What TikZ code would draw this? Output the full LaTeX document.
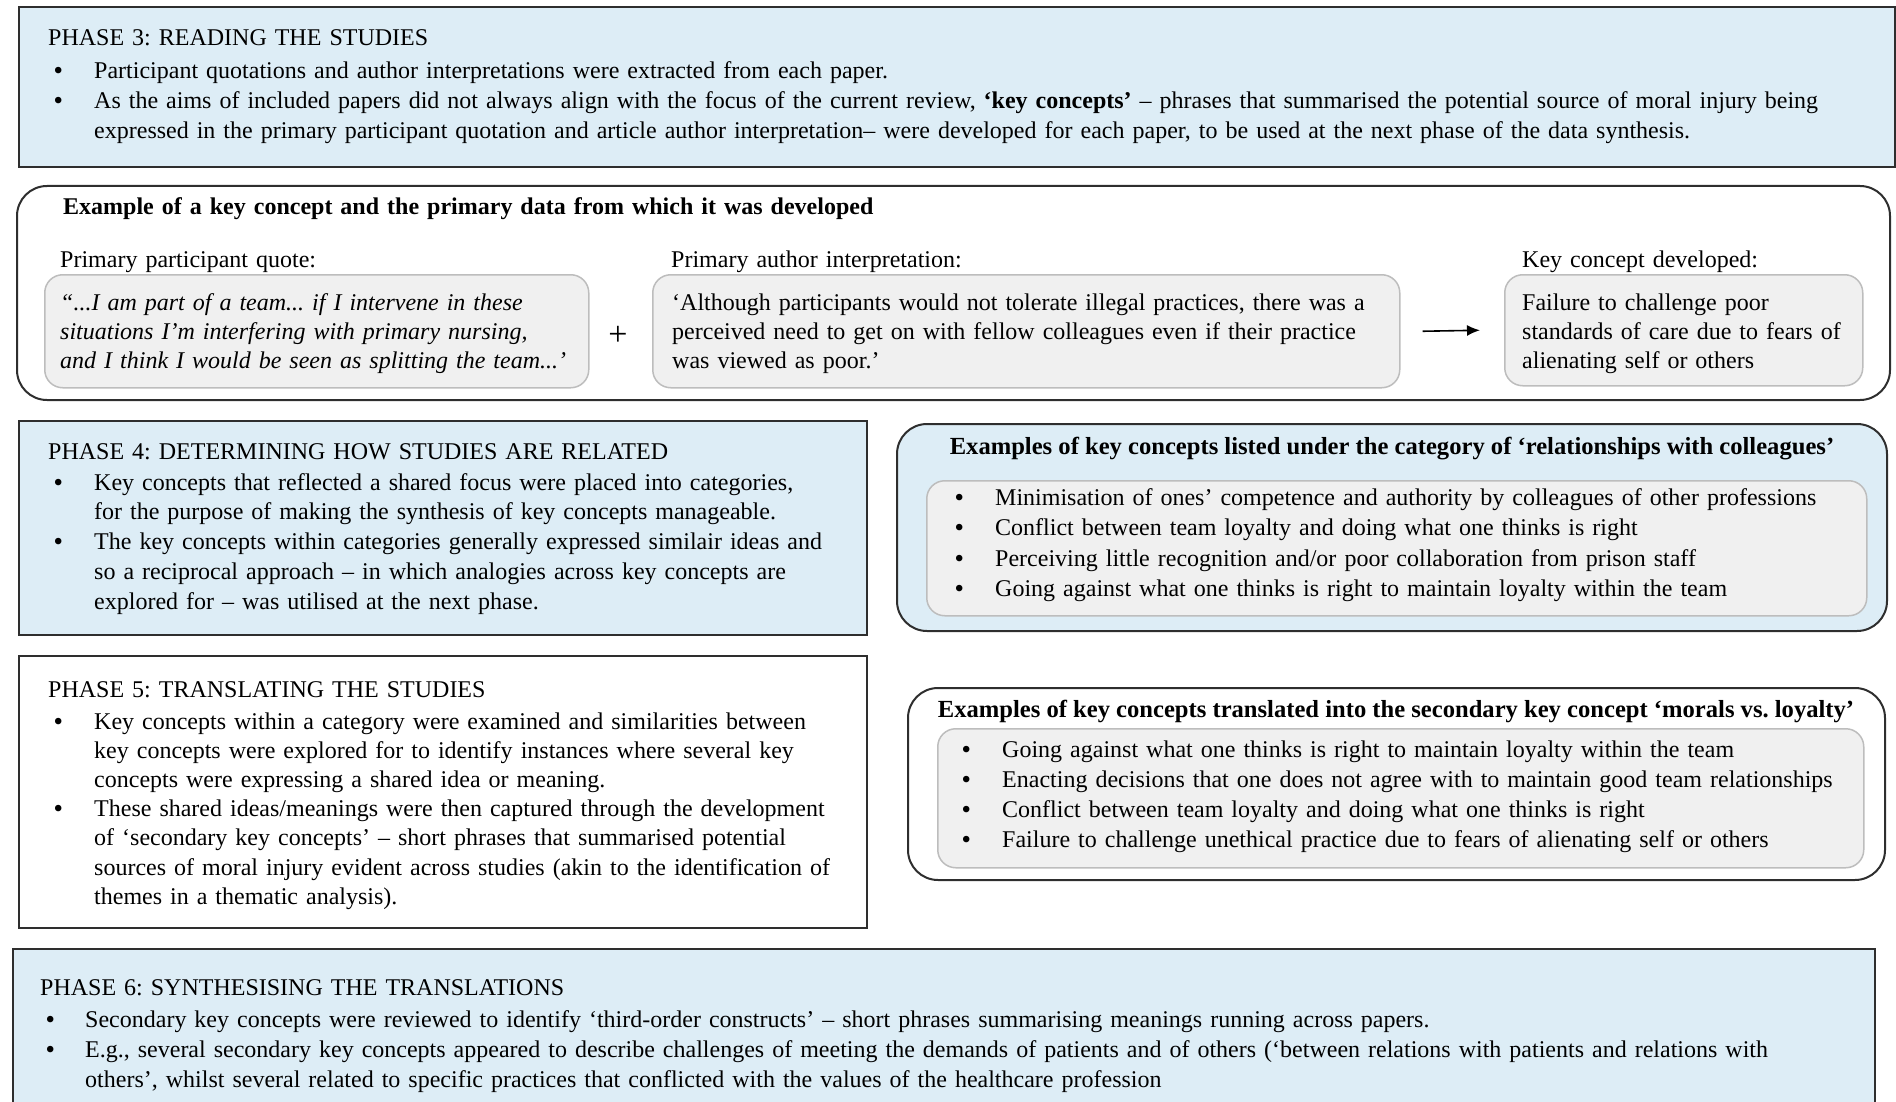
\documentclass[tikz,border=0pt]{standalone}
\usepackage{fontspec}
\setmainfont{Liberation Serif}
\usetikzlibrary{arrows.meta}

\definecolor{phaseblue}{HTML}{DDEDF6}
\definecolor{innergray}{HTML}{F0F0F0}
\definecolor{innerline}{HTML}{BDBDBD}
\definecolor{edge}{HTML}{2E2E2E}

\newcommand{\bul}{\makebox[40pt][l]{\textbf{\textbullet}}}
\newcommand{\ind}{\hspace*{40pt}}

\tikzset{
  boxshape/.style={draw=edge, line width=2pt, inner sep=0pt, anchor=north west},
  phasebox/.style={boxshape, fill=phaseblue},
  plainbox/.style={boxshape, fill=white},
  roundbox/.style={boxshape, rounded corners=30pt},
  graybox/.style={draw=innerline, fill=innergray, line width=1.5pt,
    rounded corners=18pt, inner sep=0pt, anchor=north west},
  txt/.style={inner sep=0pt, align=left, text width=1850pt,
    font=\fontsize{24}{29.5}\selectfont, anchor=base west},
  btitle/.style={inner sep=0pt, font=\fontsize{24.6}{28}\selectfont\bfseries, anchor=base},
}

\begin{document}
\frenchspacing
\begin{tikzpicture}[x=1pt, y=-1pt]
\useasboundingbox (0,0) rectangle (1896,1102);
\clip (0,0) rectangle (1896,1102);

% ---------- Phase 3 ----------
\node[phasebox, minimum width=1876pt, minimum height=160pt] (p3) at (18,6) {};
\node[txt] (p3title) at (48,46) {PHASE 3: READING THE STUDIES};
\node[txt, font=\fontsize{24}{30}\selectfont] (p3body) at (54,79) {\bul Participant quotations and author interpretations were extracted from each paper.\\
\bul As the aims of included papers did not always align with the focus of the current review, \textbf{‘key concepts’} – phrases that summarised the potential source of moral injury being\\
\ind expressed in the primary participant quotation and article author interpretation– were developed for each paper, to be used at the next phase of the data synthesis.};

% ---------- Example of a key concept ----------
\node[roundbox, fill=white, minimum width=1873pt, minimum height=214pt] (ex) at (16,185) {};
\node[txt, font=\fontsize{24}{28}\selectfont\bfseries] (extitle) at (63,215)
  {Example of a key concept and the primary data from which it was developed};

\node[txt] (lquote) at (60,267) {Primary participant quote:};
\node[txt] (lauthor) at (671,267) {Primary author interpretation:};
\node[txt] (lkey) at (1522,267) {Key concept developed:};

\node[graybox, minimum width=544pt, minimum height=113pt] (quote) at (44,274) {};
\node[graybox, minimum width=747pt, minimum height=113pt] (author) at (652,274) {};
\node[graybox, minimum width=358pt, minimum height=111pt] (keyc) at (1504,274) {};

\node[txt, font=\fontsize{24}{29}\selectfont\itshape] (quotetext) at (60,310)
  {“...I am part of a team... if I intervene in these\\
   situations I’m interfering with primary nursing,\\
   and I think I would be seen as splitting the team...’};
\node[txt, font=\fontsize{24}{29}\selectfont] (authortext) at (672,310)
  {‘Although participants would not tolerate illegal practices, there was a\\
   perceived need to get on with fellow colleagues even if their practice\\
   was viewed as poor.’};
\node[txt, font=\fontsize{24}{29}\selectfont] (keytext) at (1522,310)
  {Failure to challenge poor\\
   standards of care due to fears of\\
   alienating self or others};

\node[inner sep=0pt, font=\fontsize{34}{36}\selectfont] (plus) at (618,336) {+};
\draw[line width=1.6pt, -{Latex[length=13pt,width=11pt]}]
  ([xshift=22pt]author.east) -- ([xshift=-24pt]keyc.west);

% ---------- Phase 4 ----------
\node[phasebox, minimum width=848pt, minimum height=214pt] (p4) at (18,420) {};
\node[txt] (p4title) at (48,459) {PHASE 4: DETERMINING HOW STUDIES ARE RELATED};
\node[txt, font=\fontsize{24}{29.75}\selectfont] (p4body) at (54,490)
  {\bul Key concepts that reflected a shared focus were placed into categories,\\
   \ind for the purpose of making the synthesis of key concepts manageable.\\
   \bul The key concepts within categories generally expressed similair ideas and\\
   \ind so a reciprocal approach – in which analogies across key concepts are\\
   \ind explored for – was utilised at the next phase.};

% ---------- Relationships with colleagues ----------
\node[roundbox, fill=phaseblue, minimum width=990pt, minimum height=207pt] (rel) at (896,423) {};
\node[btitle] (reltitle) at (1392,454)
  {Examples of key concepts listed under the category of ‘relationships with colleagues’};
\node[graybox, minimum width=940pt, minimum height=135pt] (relin) at (926,480) {};
\node[txt, font=\fontsize{24}{30.5}\selectfont] (relitems) at (955,505)
  {\bul Minimisation of ones’ competence and authority by colleagues of other professions\\
   \bul Conflict between team loyalty and doing what one thinks is right\\
   \bul Perceiving little recognition and/or poor collaboration from prison staff\\
   \bul Going against what one thinks is right to maintain loyalty within the team};

% ---------- Phase 5 ----------
\node[plainbox, minimum width=848pt, minimum height=272pt] (p5) at (18,655) {};
\node[txt] (p5title) at (48,697) {PHASE 5: TRANSLATING THE STUDIES};
\node[txt, font=\fontsize{24}{29.2}\selectfont] (p5body) at (54,729)
  {\bul Key concepts within a category were examined and similarities between\\
   \ind key concepts were explored for to identify instances where several key\\
   \ind concepts were expressing a shared idea or meaning.\\
   \bul These shared ideas/meanings were then captured through the development\\
   \ind of ‘secondary key concepts’ – short phrases that summarised potential\\
   \ind sources of moral injury evident across studies (akin to the identification of\\
   \ind themes in a thematic analysis).};

% ---------- Morals vs. loyalty ----------
\node[roundbox, fill=white, minimum width=977pt, minimum height=192pt] (mor) at (907,687) {};
\node[btitle] (mortitle) at (1396,717)
  {Examples of key concepts translated into the secondary key concept ‘morals vs. loyalty’};
\node[graybox, minimum width=926pt, minimum height=139pt] (morin) at (937,728) {};
\node[txt, font=\fontsize{24}{30.3}\selectfont] (moritems) at (962,757)
  {\bul Going against what one thinks is right to maintain loyalty within the team\\
   \bul Enacting decisions that one does not agree with to maintain good team relationships\\
   \bul Conflict between team loyalty and doing what one thinks is right\\
   \bul Failure to challenge unethical practice due to fears of alienating self or others};

% ---------- Phase 6 ----------
\node[phasebox, minimum width=1862pt, minimum height=200pt] (p6) at (12,948) {};
\node[txt] (p6title) at (40,995) {PHASE 6: SYNTHESISING THE TRANSLATIONS};
\node[txt, font=\fontsize{24}{30}\selectfont] (p6body) at (46,1027)
  {\makebox[39pt][l]{\textbf{\textbullet}}Secondary key concepts were reviewed to identify ‘third-order constructs’ – short phrases summarising meanings running across papers.\\
   \makebox[39pt][l]{\textbf{\textbullet}}E.g., several secondary key concepts appeared to describe challenges of meeting the demands of patients and of others (‘between relations with patients and relations with\\
   \hspace*{39pt}others’, whilst several related to specific practices that conflicted with the values of the healthcare profession};

\end{tikzpicture}
\end{document}
